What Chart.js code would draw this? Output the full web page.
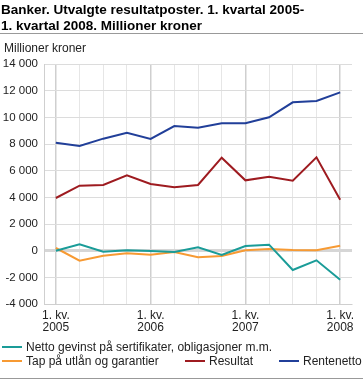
<!DOCTYPE html>
<html>
<head>
<meta charset="utf-8">
<script src="https://cdn.jsdelivr.net/npm/chart.js@4"></script>
<style>
	html, body { margin: 0; padding: 0; background: #fff; }
	#wrap { width: 363px; height: 380px; }
</style>
</head>
<body>
<div id="wrap"><canvas id="banker"></canvas></div>
<script>
const quarters = ["1. kv. 2005", "2. kv. 2005", "3. kv. 2005", "4. kv. 2005",
	"1. kv. 2006", "2. kv. 2006", "3. kv. 2006", "4. kv. 2006",
	"1. kv. 2007", "2. kv. 2007", "3. kv. 2007", "4. kv. 2007", "1. kv. 2008"];

const nettoGevinst = [0, 475, -75, 25, -25, -100, 250, -325, 350, 450, -1450, -725, -2175];
const tapUtlan = [200, -750, -375, -200, -300, -100, -500, -400, 25, 125, 50, 25, 375];
const resultat = [3950, 4875, 4925, 5650, 5000, 4750, 4925, 6975, 5275, 5550, 5250, 7000, 3825];
const rentenetto = [8100, 7850, 8400, 8850, 8375, 9350, 9225, 9550, 9550, 10000, 11125, 11225, 11875];

const yTicks = [-4000, -2000, 0, 2000, 4000, 6000, 8000, 10000, 12000, 14000];

const titleLines = ["Banker. Utvalgte resultatposter. 1. kvartal 2005-", "1. kvartal 2008. Millioner kroner"];
const unitLabel = "Millioner kroner";

const FONT = "'Liberation Sans', Arial, sans-serif";

function fmt(v) {
	const s = String(Math.abs(v)).replace(/\B(?=(\d{3})+(?!\d))/g, " ");
	return (v < 0 ? "-" : "") + s;
}

// title, rules and legend drawn straight on the canvas
const frame = {
	id: "frame",
	afterDraw(chart) {
		const ctx = chart.ctx;
		ctx.save();
		ctx.fillStyle = "#000";
		ctx.textBaseline = "alphabetic";
		ctx.font = "bold 13.5px " + FONT;
		ctx.fillText(titleLines[0], 1, 14);
		ctx.fillText(titleLines[1], 1, 30);

		ctx.fillStyle = "#999";
		ctx.fillRect(0, 33, 363, 1);
		ctx.fillRect(0, 378, 363, 1);

		ctx.fillStyle = "#222";
		ctx.font = "12px " + FONT;
		ctx.fillText(unitLabel, 4, 52);

		const items = [
			[0, 2, 351], [1, 2, 365], [2, 185, 365], [3, 279, 365]
		];
		items.forEach(([i, x, y]) => {
			const ds = chart.data.datasets[i];
			ctx.fillStyle = ds.borderColor;
			ctx.fillRect(x, y - 5, 20, 2);
			ctx.fillStyle = "#222";
			ctx.fillText(ds.label, x + 24, y);
		});
		ctx.restore();
	}
};

new Chart(document.querySelector("#banker"), {
	type: "line",
	data: {
		labels: quarters,
		datasets: [{
			label: "Netto gevinst på sertifikater, obligasjoner m.m.",
			data: nettoGevinst,
			borderColor: "#1a9c98"
		}, {
			label: "Tap på utlån og garantier",
			data: tapUtlan,
			borderColor: "#f79a33"
		}, {
			label: "Resultat",
			data: resultat,
			borderColor: "#9e1b20"
		}, {
			label: "Rentenetto",
			data: rentenetto,
			borderColor: "#213f99"
		}]
	},
	options: {
		responsive: true,
		maintainAspectRatio: false,
		animation: false,
		layout: {
			padding: { top: 64, right: 11, bottom: 46, left: 0 }
		},
		elements: {
			line: { borderWidth: 2, tension: 0, fill: false },
			point: { radius: 0 }
		},
		plugins: {
			legend: { display: false },
			tooltip: { enabled: false }
		},
		scales: {
			x: {
				offset: true,
				afterFit: (axis) => { axis.height = 30; },
				grid: {
					offset: false,
					drawTicks: false,
					color: (c) => (c.index % 4 === 0 ? "#cfcfcf" : "#e6e6e6"),
					lineWidth: (c) => (c.index % 4 === 0 ? 1.5 : 1)
				},
				border: { color: "#cfcfcf" },
				ticks: {
					autoSkip: false,
					maxRotation: 0,
					padding: 6,
					color: "#222",
					font: { family: FONT, size: 12, lineHeight: 1.0 },
					callback: function (value, index) {
						if (index % 4 !== 0) return "";
						const parts = quarters[index].split(" ");
						return [parts[0] + " " + parts[1], parts[2]];
					}
				}
			},
			y: {
				min: yTicks[0],
				max: yTicks[yTicks.length - 1],
				afterFit: (axis) => { axis.width = 44; },
				afterBuildTicks: (axis) => { axis.ticks = yTicks.map(v => ({ value: v })); },
				grid: {
					drawTicks: false,
					color: (c) => (c.tick && c.tick.value === 0 ? "#d6d6d6" : "#dcdcdc"),
					lineWidth: (c) => (c.tick && c.tick.value === 0 ? 3 : 1)
				},
				border: { color: "#cfcfcf" },
				ticks: {
					padding: 6,
					color: "#222",
					font: { family: FONT, size: 11.5 },
					callback: (value) => fmt(value)
				}
			}
		}
	},
	plugins: [frame]
});
</script>
</body>
</html>
